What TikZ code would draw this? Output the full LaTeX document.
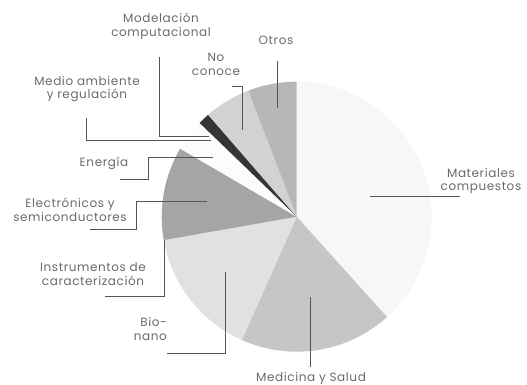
\documentclass[tikz,border=0pt]{standalone}
\usepackage{fontspec}
\setmainfont{Poppins}[LetterSpace=5]
\definecolor{labelgray}{HTML}{6A6A6A}
\definecolor{linegray}{HTML}{555555}
\definecolor{cMat}{HTML}{F7F7F7}
\definecolor{cMed}{HTML}{C6C6C6}
\definecolor{cBio}{HTML}{E1E1E1}
\definecolor{cEle}{HTML}{A5A5A5}
\definecolor{cEne}{HTML}{FCFCFC}
\definecolor{cMod}{HTML}{353535}
\definecolor{cNoc}{HTML}{D2D2D2}
\definecolor{cOtr}{HTML}{B7B7B7}
\begin{document}
\begin{tikzpicture}[x=1pt,y=1pt,
  lbl/.style={font=\fontsize{12}{13.8}\selectfont, text=labelgray, align=center, inner sep=0pt},
  leader/.style={draw=linegray, line width=0.85pt}]
\useasboundingbox (0,0) rectangle (527,385);
\coordinate (c) at (296.7,168.3);
% slices
\fill[cMat] (c) -- ++(-48:135) arc[start angle=-48, end angle=90, radius=135] -- cycle;
\fill[cMed] (c) -- ++(-114:135) arc[start angle=-114, end angle=-48, radius=135] -- cycle;
\fill[cBio] (c) -- ++(190:135) arc[start angle=190, end angle=246, radius=135] -- cycle;
\fill[cEle] (c) -- ++(149.7:135) arc[start angle=149.7, end angle=190, radius=135] -- cycle;
\fill[cEne] (c) -- ++(136:135) arc[start angle=136, end angle=149.7, radius=135] -- cycle;
\fill[cMod] (c) -- ++(131:135) arc[start angle=131, end angle=136, radius=135] -- cycle;
\fill[cNoc] (c) -- ++(111:135) arc[start angle=111, end angle=131, radius=135] -- cycle;
\fill[cOtr] (c) -- ++(90:135) arc[start angle=90, end angle=111, radius=135] -- cycle;
% labels
\node[lbl] (mod) at (161,359) {Modelación\\computacional};
\node[lbl] (otr) at (276,345) {Otros};
\node[lbl] (noc) at (216,321) {No\\conoce};
\node[lbl] (med) at (87,296) {Medio ambiente\\y regulación};
\node[lbl] (ene) at (104,222) {Energía};
\node[lbl] (ele) at (70,175) {Electrónicos y\\semiconductores};
\node[lbl] (ins) at (93,110.5) {Instrumentos de\\caracterización};
\node[lbl, align=right, anchor=east] (bio) at (167,56) {Bio-\\nano};
\node[lbl] (msa) at (311,7) {Medicina y Salud};
\node[lbl] (mat) at (481,204) {Materiales\\compuestos};
% leader coordinates
\coordinate (otrA) at (277.7,324); \coordinate (otrB) at (277.7,277);
\coordinate (nocA) at (231.7,298.3); \coordinate (nocB) at (242.3,298.3); \coordinate (nocC) at (242.3,255);
\coordinate (modA) at (159,328); \coordinate (modB) at (159,248.3); \coordinate (modC) at (209,248.3);
\coordinate (medA) at (86.7,267); \coordinate (medB) at (86.7,244.3); \coordinate (medC) at (211,244.3);
\coordinate (eneA) at (120,205.7); \coordinate (eneB) at (148.3,205.7); \coordinate (eneC) at (148.3,228); \coordinate (eneD) at (213,228);
\coordinate (eleA) at (90,155.7); \coordinate (eleB) at (136.7,155.7); \coordinate (eleC) at (136.7,184); \coordinate (eleD) at (206.7,184);
\coordinate (insA) at (105,89); \coordinate (insB) at (164,89); \coordinate (insC) at (164,145);
\coordinate (bioA) at (167,32); \coordinate (bioB) at (225,32); \coordinate (bioC) at (225,113);
\coordinate (msaA) at (310,18); \coordinate (msaB) at (310,88);
\coordinate (matA) at (370,189); \coordinate (matB) at (460,189);
% leaders
\draw[leader] (otrA) -- (otrB);
\draw[leader] (nocA) -- (nocB) -- (nocC);
\draw[leader] (modA) -- (modB) -- (modC);
\draw[leader] (medA) -- (medB) -- (medC);
\draw[leader] (eneA) -- (eneB) -- (eneC) -- (eneD);
\draw[leader] (eleA) -- (eleB) -- (eleC) -- (eleD);
\draw[leader] (insA) -- (insB) -- (insC);
\draw[leader] (bioA) -- (bioB) -- (bioC);
\draw[leader] (msaA) -- (msaB);
\draw[leader] (matA) -- (matB);
\end{tikzpicture}
\end{document}
